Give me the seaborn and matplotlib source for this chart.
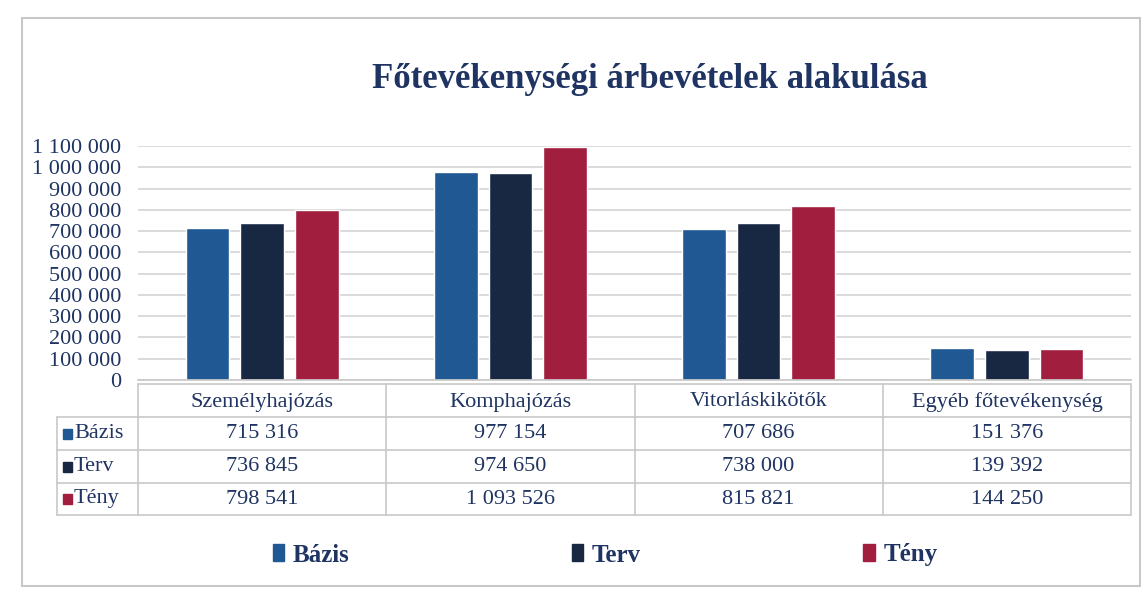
import matplotlib
matplotlib.use("Agg")
import matplotlib.pyplot as plt
import seaborn as sns
import pandas as pd
from matplotlib.patches import Patch, Rectangle
from matplotlib.lines import Line2D
from matplotlib.transforms import blended_transform_factory

categories = ["Személyhajózás", "Komphajózás", "Vitorláskikötők", "Egyéb főtevékenység"]
series = ["Bázis", "Terv", "Tény"]
bazis = [715316, 977154, 707686, 151376]
terv = [736845, 974650, 738000, 139392]
teny = [798541, 1093526, 815821, 144250]
yticks = [0, 100000, 200000, 300000, 400000, 500000, 600000, 700000, 800000, 900000, 1000000, 1100000]
title = "Főtevékenységi árbevételek alakulása"

colors = ["#1F5893", "#182742", "#A11E3E"]
txt = "#1F3462"

sns.set_theme(style="white")
plt.rcParams["font.family"] = ["Liberation Serif", "DejaVu Serif"]

rows = []
for name, vals in zip(series, [bazis, terv, teny]):
    for c, v in zip(categories, vals):
        rows.append({"cat": c, "series": name, "val": v})
df = pd.DataFrame(rows)

W, H = 1147, 590
fig = plt.figure(figsize=(W / 100, H / 100), dpi=100)
ax = fig.add_axes([138 / W, 1 - 380 / H, (1131 - 138) / W, (380 - 146) / H])

sns.barplot(data=df, x="cat", y="val", hue="series", palette=colors,
            width=0.66, gap=0.2, ax=ax, legend=False, saturation=1)

ax.set_ylim(0, 1100000)
ax.set_xlim(-0.5, len(categories) - 0.5)
ax.set_yticks(yticks)
ax.set_yticklabels([f"{v:,}".replace(",", " ") for v in yticks], color=txt, fontsize=16)
ax.set_xticks([])
ax.set_xlabel("")
ax.set_ylabel("")
ax.tick_params(axis="y", length=0, pad=12)
for s in ["top", "right", "left"]:
    ax.spines[s].set_visible(False)
ax.spines["bottom"].set_color("#C8C8C8")
ax.yaxis.grid(True, color="#D4D4D4", linewidth=1.2)
ax.set_axisbelow(True)

fig.text(650 / W, 1 - 80 / H, title, ha="center", va="center",
         fontsize=25, fontweight="bold", color=txt)

# data table below the plot
tr = blended_transform_factory(ax.transData, fig.transFigure)
ff = fig.transFigure
def fy(py):
    return 1 - py / H

line_c = "#C8C8C8"
ys = [384, 417, 450, 483, 515]
fig.add_artist(Line2D([138 / W, 1131 / W], [fy(ys[0])] * 2, color=line_c, lw=1.2, transform=ff))
for y in ys[1:]:
    fig.add_artist(Line2D([57 / W, 1131 / W], [fy(y)] * 2, color=line_c, lw=1.2, transform=ff))
fig.add_artist(Line2D([57 / W] * 2, [fy(ys[1]), fy(ys[-1])], color=line_c, lw=1.2, transform=ff))
for i in range(len(categories) + 1):
    fig.add_artist(Line2D([i - 0.5] * 2, [fy(ys[0]), fy(ys[-1])], color=line_c, lw=1.2, transform=tr))

for i, c in enumerate(categories):
    fig.text(i, fy(402), c, transform=tr, ha="center", va="center", fontsize=16, color=txt)
for r, (name, vals) in enumerate(zip(series, [bazis, terv, teny])):
    yc = fy((ys[r + 1] + ys[r + 2]) / 2)
    fig.add_artist(Rectangle((63 / W, yc - 5 / H), 9 / W, 10 / H, color=colors[r], transform=ff))
    fig.text(74 / W, yc, name, ha="left", va="center", fontsize=16, color=txt)
    for i, v in enumerate(vals):
        fig.text(i, yc, f"{v:,}".replace(",", " "), transform=tr, ha="center", va="center",
                 fontsize=16, color=txt)

# legend
handles = [Patch(facecolor=c, edgecolor=c) for c in colors]
leg = fig.legend(handles, series, loc="center", bbox_to_anchor=(605 / W, fy(555)), ncol=3,
                 frameon=False, handlelength=0.45, handleheight=0.65, handletextpad=0.35,
                 columnspacing=8.9, prop={"size": 18, "weight": "bold"})
for t in leg.get_texts():
    t.set_color(txt)

# outer chart frame
fig.add_artist(Rectangle((22 / W, 1 - 586 / H), (1140 - 22) / W, (586 - 18) / H,
                         fill=False, edgecolor="#C8C8C8", lw=1.5, transform=ff))

fig.savefig("out.png", dpi=100)
